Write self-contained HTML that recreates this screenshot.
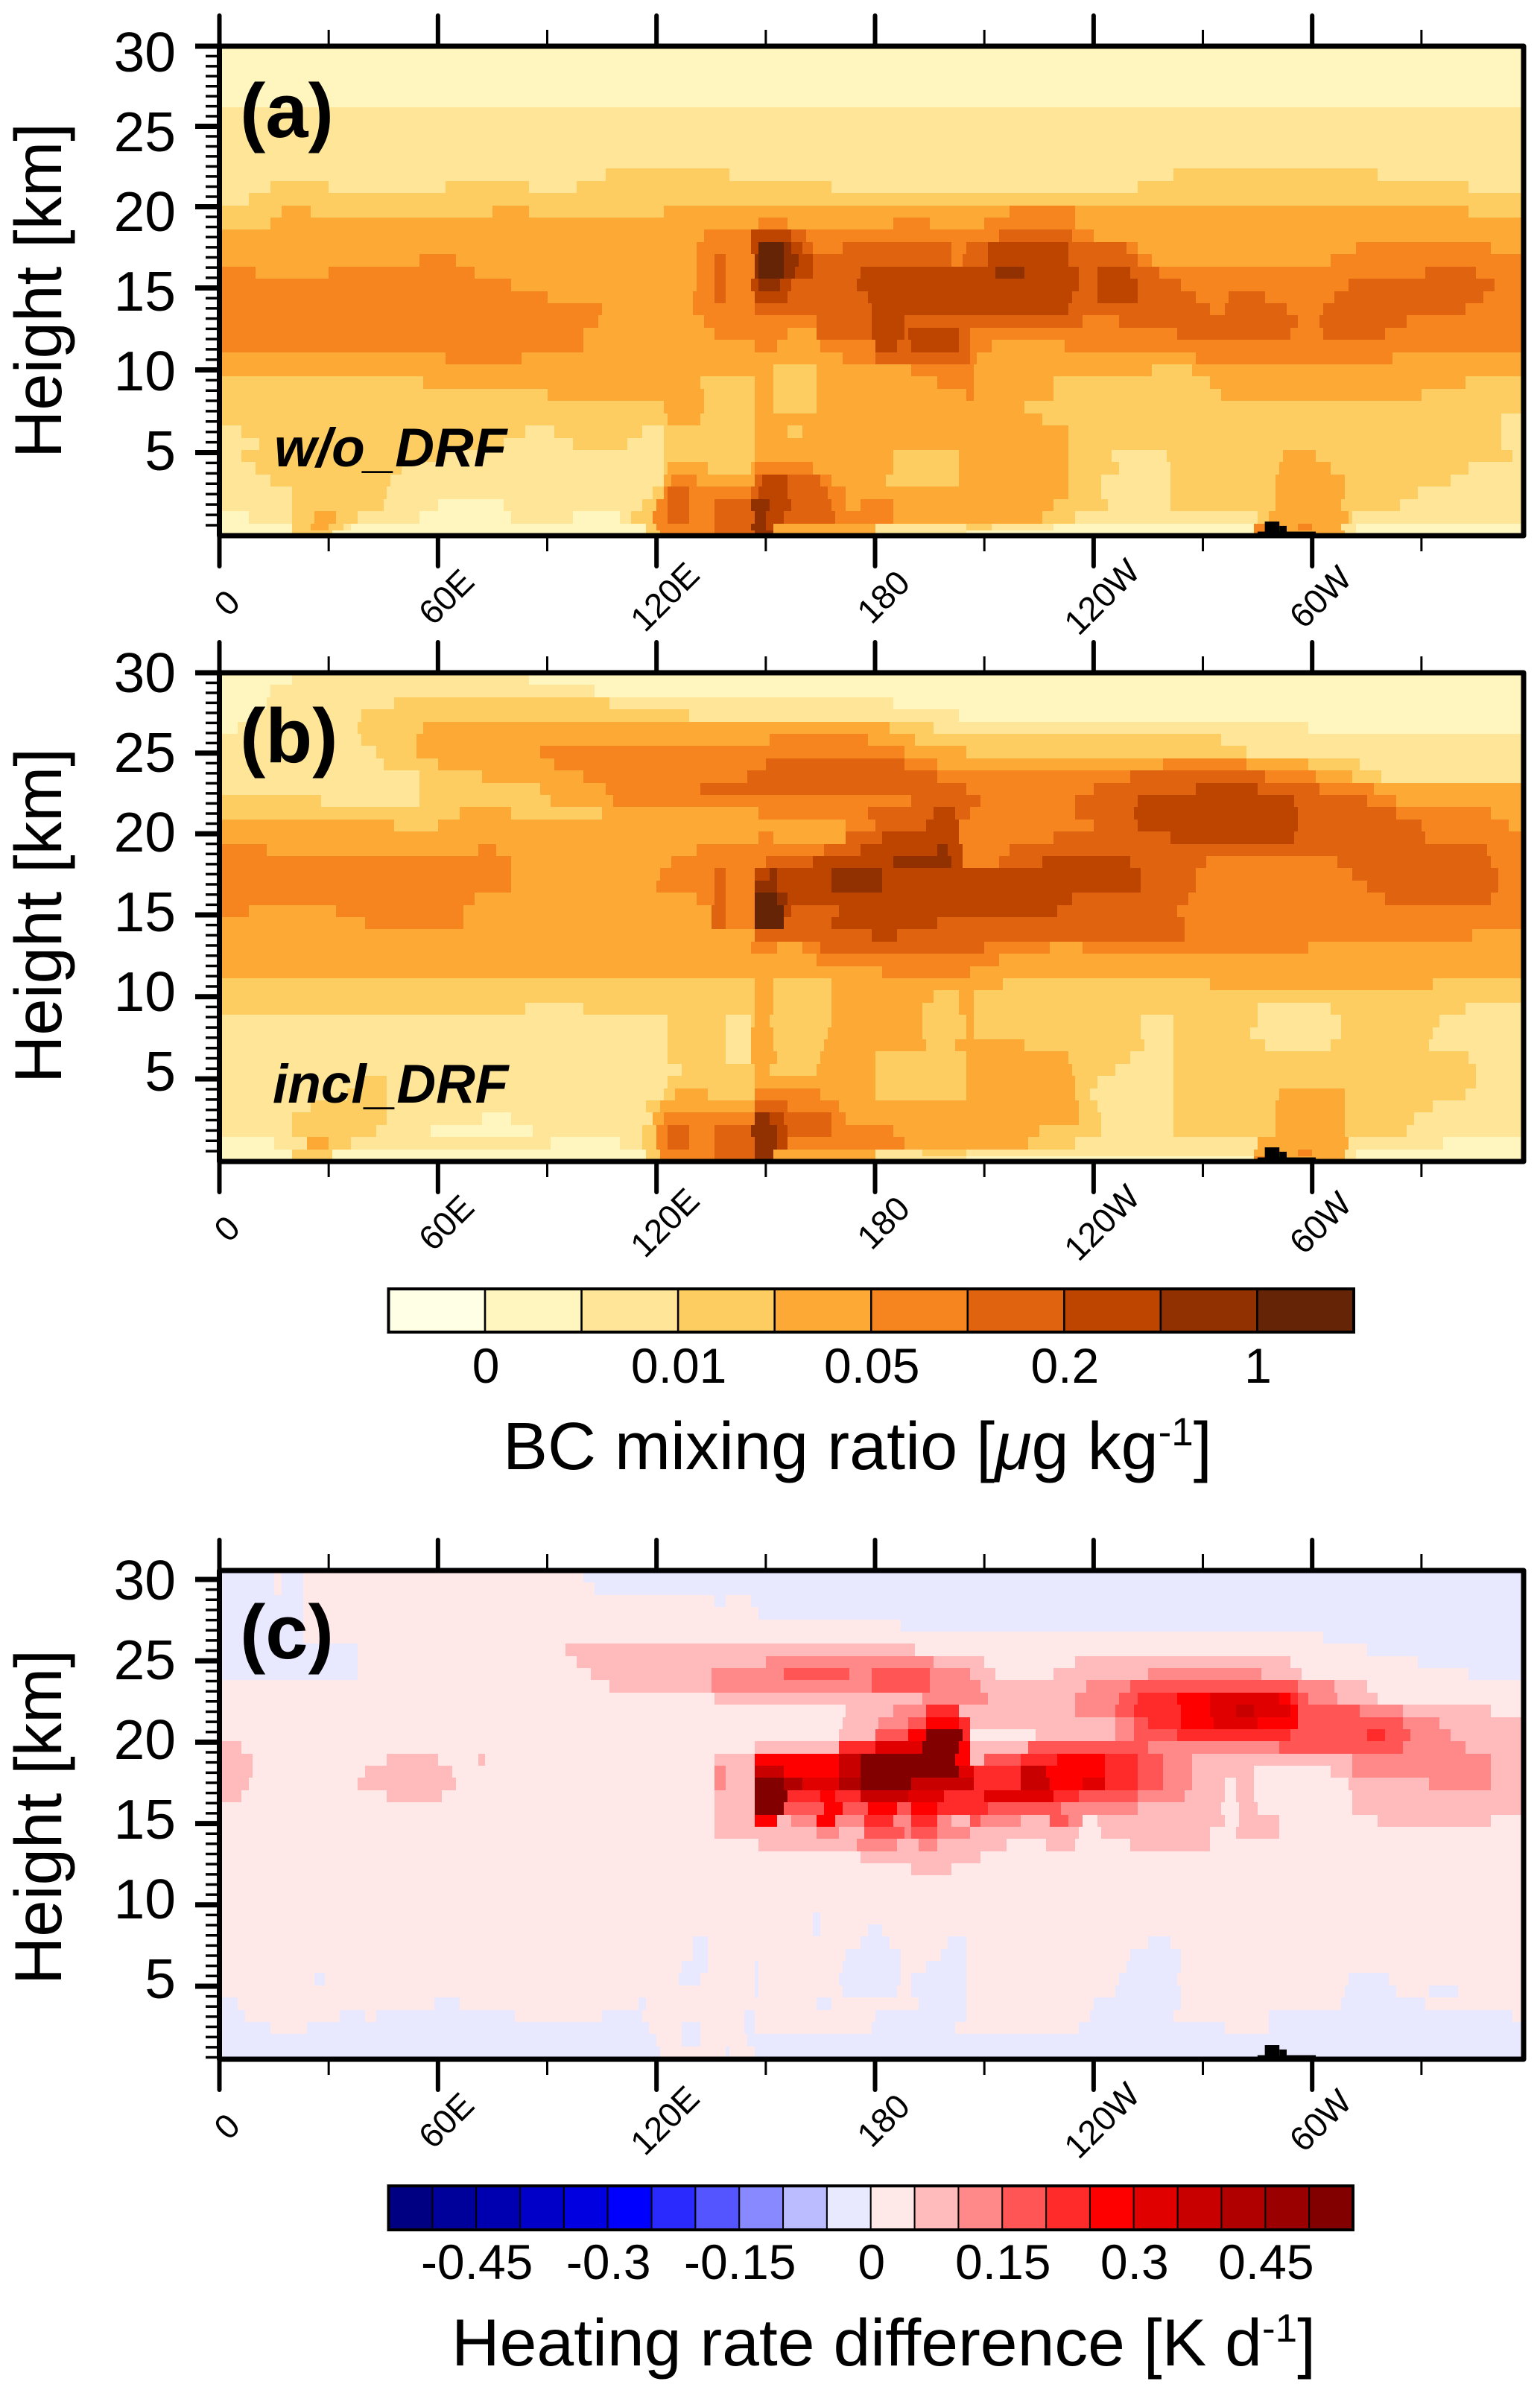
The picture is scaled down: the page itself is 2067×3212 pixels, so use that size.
<!DOCTYPE html>
<html lang="en">
<head>
<meta charset="utf-8">
<title>BC mixing ratio and heating rate difference</title>
<style>
html,body{margin:0;padding:0;background:#fff;}
svg{display:block;font-family:"Liberation Sans",sans-serif;}
</style>
</head>
<body>
<svg id="figure" xmlns="http://www.w3.org/2000/svg" width="2067" height="3212" viewBox="0 0 2067 3212">
<rect x="0" y="0" width="2067" height="3212" fill="#ffffff"/>
<g id="layer"></g>
<text x="322" y="184" font-size="103" font-weight="bold">(a)</text>
<text x="322" y="1023" font-size="103" font-weight="bold">(b)</text>
<text x="322" y="2226" font-size="103" font-weight="bold">(c)</text>
<text x="368" y="626" font-size="73" font-weight="bold" font-style="italic">w/o_DRF</text>
<text x="366" y="1480" font-size="73" font-weight="bold" font-style="italic">incl_DRF</text>
<text x="675" y="1972" font-size="90">BC mixing ratio [<tspan font-style="italic">μ</tspan>g kg<tspan dy="-32" font-size="53">-1</tspan><tspan dy="32">]</tspan></text>
<text x="606" y="3175" font-size="89.5">Heating rate difference [K d<tspan dy="-32" font-size="53">-1</tspan><tspan dy="32">]</tspan></text>
</svg>
<script>
const paletteBC = ["#FFFFE5","#FFF5BE","#FEE598","#FDCD62","#FCA935","#F6851F","#E06410","#BE4500","#913000","#652405"];
const paletteHR = ["#000082","#00009A","#0000B0","#0000C8","#0000E0","#0000FF","#2A2AFF","#5555FF","#8888FF","#BBBBFF","#E8E8FF","#FFE8E8","#FFBBBB","#FF8888","#FF5555","#FF2A2A","#FF0000","#E00000","#C80000","#B00000","#9A0000","#820000"];
const colorbarLabelsBC = ["0","0.01","0.05","0.2","1"];
const colorbarBoundsBC = [1,3,5,7,9];
const colorbarLabelsHR = ["-0.45","-0.3","-0.15","0","0.15","0.3","0.45"];
const colorbarBoundsHR = [2,5,8,11,14,17,20];
const xMajorLon = [0,60,120,180,240,300];
const xMajorLabels = ["0","60E","120E","180","120W","60W"];
const xMinorLon = [30,90,150,210,270,330];
const yMajorKm = [5,10,15,20,25,30];
const yMinorKm = [0.625,1.25,1.875,2.5,3.125,3.75,4.375,5.625,6.25,6.875,7.5,8.125,8.75,9.375,10.625,11.25,11.875,12.5,13.125,13.75,14.375,15.625,16.25,16.875,17.5,18.125,18.75,19.375,20.625,21.25,21.875,22.5,23.125,23.75,24.375,25.625,26.25,26.875,27.5,28.125,28.75,29.375];
const terrainStartLon = [139,285,287,291];
const terrainEndLon = [153,301,291,293];
const terrainRiseKm = [0.15,0.25,0.87,0.6];
const heightEdgesAB = [30,29.25,28.5,27.75,27,26.25,25.5,24.75,24,23.25,22.5,21.75,21,20.25,19.5,18.75,18,17.25,16.5,15.75,15,14.25,13.5,12.75,12,11.25,10.5,9.75,9,8.25,7.5,6.75,6,5.25,4.5,3.75,3,2.25,1.5,0.75,0.3,0];
const heightEdgesC = [30.55,29.8,29.05,28.3,27.55,26.8,26.05,25.3,24.55,23.8,23.05,22.3,21.55,20.8,20.05,19.3,18.55,17.8,17.05,16.3,15.55,14.8,14.05,13.3,12.55,11.8,11.05,10.3,9.55,8.8,8.05,7.3,6.55,5.8,5.05,4.3,3.55,2.8,2.05,1.3,0.51];
/* each row: "level:endLongitude" spans, from top of the plot to the bottom */
const rowsA = [
"1:360","1:360","1:360","1:360","1:360",
"2:360","2:360","2:360","2:360","2:360",
"2:106 3:140 2:262 3:318 2:360",
"2:14 3:30 2:62 3:85 2:98 3:168 2:252 3:343 2:360",
"2:8 3:360",
"3:17 4:25 3:75 4:85 3:122 4:217 5:235 4:343 3:360",
"3:14 4:148 5:156 4:185 5:195 4:210 5:235 4:360",
"4:133 5:146 7:157 6:161 5:214 6:234 5:240 4:360",
"4:131 5:146 7:148 9:155 8:157 7:160 6:163 5:171 6:201 5:205 6:211 7:233 6:249 5:252 4:312 5:349 4:360",
"4:55 5:65 4:131 5:136 6:139 5:147 8:148 9:155 8:159 7:163 6:201 5:204 6:211 7:233 6:252 5:256 4:305 5:360",
"5:10 4:30 5:70 4:131 5:136 6:139 5:147 8:148 9:155 8:158 7:163 6:176 7:213 8:221 7:236 6:241 7:250 6:258 5:331 6:345 5:360",
"5:80 4:131 5:136 6:139 5:146 7:148 8:154 7:157 6:175 7:236 6:241 7:252 6:264 5:310 6:350 5:360",
"5:90 4:130 5:136 6:139 5:147 7:156 6:178 7:234 6:241 7:252 6:268 5:277 6:287 5:306 6:347 5:360",
"5:105 4:130 5:147 6:179 7:233 6:272 5:276 6:293 5:303 6:342 5:360",
"5:104 4:133 5:164 6:179 7:188 6:237 5:247 6:296 5:302 6:326 5:360",
"5:100 4:136 5:156 4:164 6:179 7:188 6:189 7:203 6:206 5:263 6:294 5:303 6:320 5:360",
"5:100 4:147 5:153 4:165 5:180 7:186 6:190 7:203 6:206 5:212 4:232 5:360",
"4:62 5:83 4:171 5:180 6:206 5:208 4:268 5:322 4:360",
"4:152 3:164 4:190 5:207 4:256 3:267 4:360",
"3:56 4:132 3:147 4:152 3:164 4:197 5:207 4:229 3:272 4:342 3:360",
"3:90 4:133 3:147 4:152 3:164 4:205 5:207 4:229 3:275 4:330 3:360",
"3:122 4:133 3:147 4:152 3:164 4:221 3:360",
"3:123 4:132 3:147 4:226 3:352 2:360",
"2:6 3:84 2:92 3:116 2:122 3:147 4:156 3:160 4:233 3:352 2:360",
"2:11 3:78 2:97 3:112 2:122 3:147 4:233 3:352 2:360",
"2:6 3:62 2:122 3:147 4:185 3:203 4:233 3:245 2:260 3:292 4:301 3:355 2:360",
"2:10 3:50 2:122 3:123 4:134 3:146 4:147 5:163 4:185 3:203 4:233 3:247 2:261 3:291 4:305 3:343 2:360",
"2:14 3:47 2:122 4:124 5:131 4:147 6:149 7:156 6:165 5:168 4:183 3:203 4:233 3:242 2:261 3:290 4:309 3:338 2:360",
"2:20 3:46 2:119 3:122 5:123 6:129 5:146 6:148 7:156 6:167 5:172 4:233 3:242 2:261 3:290 4:309 3:329 2:360",
"2:20 3:45 2:60 1:78 2:116 3:120 5:123 6:129 5:136 6:146 8:151 7:157 6:168 5:172 4:176 5:185 4:229 3:244 2:261 3:290 4:308 3:324 2:360",
"1:8 2:20 3:26 4:32 3:38 2:55 1:80 2:97 1:110 2:113 3:119 5:123 6:129 5:136 6:147 8:150 7:155 6:169 5:185 4:226 3:235 2:285 3:288 4:310 3:311 2:360",
"1:20 3:25 4:30 3:34 2:36 1:117 3:120 5:136 6:146 8:150 7:152 4:180 2:205 3:212 2:229 1:284 5:288 4:296 5:300 4:308 2:312 1:360",
"1:20 3:31 1:117 3:121 5:136 6:147 8:152 4:180 2:205 1:284 5:290 4:309 2:312 1:360"
];
const rowsB = [
"1:20 2:85 1:360",
"1:14 2:103 1:360",
"1:13 2:48 3:107 2:185 1:360",
"1:9 2:39 3:129 2:203 1:360",
"1:5 2:38 3:56 4:184 3:196 2:299 1:360",
"2:39 3:54 4:151 5:178 4:191 3:275 2:360",
"2:43 3:54 4:88 5:188 4:205 3:282 2:360",
"2:45 3:60 4:92 5:150 6:188 5:197 4:259 5:282 4:299 3:313 2:360",
"2:55 3:72 4:100 5:145 6:197 5:250 6:287 5:301 4:311 3:319 2:360",
"2:55 3:88 4:106 5:132 6:205 5:240 6:268 7:285 6:302 5:317 4:360",
"3:28 2:55 3:91 4:108 5:190 6:209 5:235 6:252 7:295 6:315 5:323 4:360",
"3:66 4:80 3:105 4:148 5:178 6:196 7:202 6:206 5:235 6:251 7:296 6:323 5:349 4:360",
"4:48 3:60 4:172 5:180 6:194 7:203 5:240 6:252 7:296 6:330 5:354 4:360",
"4:148 5:152 4:172 6:182 7:203 5:229 6:261 7:295 6:331 5:359 4:360",
"5:13 4:71 5:76 4:131 5:166 6:176 7:197 8:200 7:204 5:217 6:348 5:360",
"5:80 4:124 5:150 6:163 7:185 8:201 7:204 5:214 6:226 7:250 6:271 5:307 6:349 5:360",
"5:80 4:121 5:136 6:139 5:147 7:151 8:153 7:168 8:182 7:253 6:268 5:311 6:351 5:360",
"5:80 4:120 5:136 6:139 5:147 8:153 7:168 8:182 7:253 6:268 5:315 6:351 5:360",
"5:70 4:131 5:136 6:139 5:147 9:153 8:156 7:234 6:266 5:320 6:349 5:360",
"5:8 4:32 5:67 4:135 6:139 5:147 9:155 7:157 6:170 7:230 6:263 5:360",
"4:40 5:67 4:135 6:139 5:147 9:155 6:168 7:197 6:265 5:360",
"4:147 6:179 7:186 6:265 5:344 4:360",
"4:146 5:153 4:160 5:165 6:210 5:228 4:237 5:299 4:360",
"4:164 5:214 4:360",
"4:182 5:206 4:360",
"3:147 4:152 3:168 4:215 3:272 4:333 3:360",
"3:147 4:152 3:168 4:196 3:203 4:207 3:360",
"3:84 2:100 3:147 4:152 3:168 4:193 3:203 4:207 3:285 2:305 3:342 2:360",
"2:123 3:139 2:146 3:147 4:151 3:168 4:193 3:205 4:207 3:253 2:262 3:285 2:308 3:335 2:360",
"2:123 3:139 2:146 4:152 3:167 4:193 3:205 4:207 3:253 2:262 3:283 2:308 3:333 2:360",
"2:123 3:139 2:146 4:152 3:166 4:194 3:202 4:221 3:254 2:262 3:287 2:305 3:332 2:360",
"2:123 3:139 2:146 4:153 3:165 4:180 3:205 4:233 3:250 2:262 3:343 2:360",
"2:127 3:147 4:151 3:164 4:180 3:205 4:234 3:246 2:262 3:345 2:360",
"2:39 3:46 2:123 3:147 4:180 3:205 4:235 3:241 2:262 3:345 2:360",
"2:35 3:46 2:122 3:125 4:134 3:147 5:165 4:180 3:205 4:235 3:239 2:262 3:291 4:309 3:342 2:360",
"2:25 3:46 2:117 3:121 4:147 6:156 5:170 4:236 3:241 2:262 3:290 4:309 3:333 2:360",
"2:20 3:46 2:72 1:80 2:119 4:122 5:147 8:151 7:155 6:168 5:172 4:236 3:242 2:262 3:290 4:309 3:328 2:360",
"2:20 3:43 2:58 1:86 2:116 3:120 5:123 6:129 5:136 6:146 8:153 7:156 6:168 5:185 4:225 3:242 2:262 3:290 4:309 3:326 2:360",
"1:15 2:24 4:30 3:36 2:91 1:110 2:116 3:120 5:123 6:129 5:136 6:147 8:153 7:156 5:188 4:222 3:235 2:285 4:310 2:336 1:360",
"1:20 3:31 1:117 3:121 5:136 6:147 8:152 4:180 2:193 3:205 2:284 4:296 5:300 4:309 2:312 1:360",
"1:20 3:31 1:117 3:121 5:136 6:147 8:152 4:180 2:205 1:284 5:290 4:309 2:312 1:360"
];
const rowsC = [
"10:15 11:17 10:23 11:100 10:360",
"10:15 11:17 10:23 11:103 10:360",
"10:23 11:136 10:139 11:146 10:360",
"10:23 11:148 10:360",
"10:23 11:187 10:360",
"10:23 11:303 10:360",
"10:38 11:95 12:191 11:315 10:360",
"10:38 11:98 12:150 13:196 12:210 11:235 12:294 11:329 10:360",
"10:38 11:102 12:135 13:155 14:173 13:179 14:195 13:206 12:213 11:229 12:255 13:286 12:297 11:343 10:360",
"11:107 12:135 13:179 14:195 13:209 12:238 13:250 14:296 13:306 12:315 11:360",
"11:136 12:193 13:211 12:235 13:247 14:252 15:263 16:272 17:291 16:294 15:296 14:299 13:307 12:318 11:360",
"11:172 12:185 13:194 15:203 12:235 13:246 14:251 15:264 16:272 17:279 18:284 17:294 16:296 14:313 13:325 12:349 11:360",
"11:171 12:181 13:189 14:194 16:203 15:206 12:246 13:251 14:255 15:264 16:273 17:285 16:296 14:325 13:335 12:358 11:360",
"11:170 12:180 14:189 16:194 21:204 15:206 11:224 12:246 13:251 14:263 15:294 14:315 15:320 14:327 13:338 12:360",
"12:6 11:147 12:170 15:180 17:193 21:203 16:206 12:222 14:255 13:291 14:325 13:342 12:360",
"12:9 11:46 12:60 11:71 12:73 11:136 12:147 16:170 18:176 21:202 16:206 12:210 14:220 15:230 16:243 15:252 14:259 13:267 12:311 13:349 12:360",
"12:9 11:40 12:64 11:136 13:139 12:147 18:155 16:170 18:176 21:203 17:207 15:220 18:227 16:243 15:252 14:259 13:267 12:284 11:305 12:311 13:349 12:360",
"12:8 11:38 12:65 11:136 13:139 12:147 21:155 19:160 17:170 19:176 21:190 18:207 15:220 18:228 16:237 17:243 15:252 14:259 13:267 12:276 11:279 12:284 11:310 12:332 13:349 12:360",
"12:6 11:46 12:61 11:136 12:147 21:156 15:165 16:169 15:176 18:189 17:199 15:210 17:229 15:236 14:252 13:265 12:276 11:279 12:284 11:311 12:360",
"11:136 12:147 21:155 14:166 16:171 14:178 16:186 14:190 16:197 15:211 14:231 13:252 12:275 11:280 12:285 11:311 12:360",
"11:136 12:147 16:153 12:157 13:164 16:169 13:177 15:185 13:190 15:197 13:201 12:206 14:209 13:220 12:228 14:233 13:237 11:241 12:276 11:280 12:291 11:318 12:349 11:360",
"11:136 12:164 13:170 12:177 14:188 13:190 14:197 13:206 12:236 11:242 12:272 11:279 12:291 11:360",
"11:148 12:175 13:186 12:192 13:197 12:216 11:227 12:235 11:250 12:272 11:360",
"11:176 12:209 11:360",
"11:190 12:201 11:360",
"11:360",
"11:360",
"11:360",
"11:163 10:165 11:360",
"11:163 10:165 11:178 10:182 11:360",
"11:130 10:134 11:176 10:184 11:200 10:205 11:255 10:261 11:360",
"11:130 10:134 11:172 10:187 11:198 10:205 11:250 10:264 11:360",
"11:127 10:134 11:147 10:148 11:171 10:187 11:194 10:205 11:249 10:264 11:360",
"11:26 10:29 11:126 10:132 11:147 10:148 11:170 10:187 11:190 10:205 11:247 10:263 11:310 10:321 11:360",
"11:147 10:148 11:171 10:186 11:190 10:205 11:246 10:264 11:309 10:323 11:332 10:340 11:360",
"10:5 11:59 10:66 11:115 10:117 11:164 10:168 11:192 10:205 11:240 10:264 11:308 10:331 11:360",
"10:7 11:33 10:40 11:43 10:81 11:105 10:116 11:144 10:147 11:180 10:205 11:239 10:262 11:288 10:355 11:360",
"10:14 11:24 10:118 11:127 10:132 11:144 10:147 11:179 10:202 11:236 10:276 11:288 10:360",
"10:120 11:127 10:132 11:145 10:360",
"10:121 11:139 10:140 11:147 10:360"
];

const SVGNS = "http://www.w3.org/2000/svg";
const layer = document.getElementById("layer");
function make(tag, parent, attrs) {
  const el = document.createElementNS(SVGNS, tag);
  for (const key in attrs) el.setAttribute(key, attrs[key]);
  parent.appendChild(el);
  return el;
}
const plotLeft = 294.5, plotRight = 2045, degToPx = 4.889;
function xOfLon(lon) { return Math.min(plotLeft + lon * degToPx, plotRight); }

function drawPanel(id, rows, edges, palette, top, bottom, kmTop, kmBot, warp, labelBase, heightCenter) {
  const group = make("g", layer, {});
  
  
  function yOfKm(km) { return top + (kmTop - km) / (kmTop - kmBot) * (bottom - top); }
  function tickY(km) { return yOfKm(km) - warp * Math.sin(Math.PI * km / 30); }

  rows.forEach(function (row, r) {
    const y0 = Math.round(yOfKm(edges[r]));
    const y1 = Math.round(yOfKm(edges[r + 1]));
    let start = 0;
    row.split(" ").forEach(function (token) {
      const parts = token.split(":");
      const level = Number(parts[0]);
      const end = Number(parts[1]);
      const x0 = Math.round(xOfLon(start));
      const x1 = Math.round(xOfLon(end));
      const cell = make("rect", group, {x: x0, y: y0, width: Math.max(x1 - x0, 0), height: y1 - y0, fill: palette[level], "shape-rendering": "crispEdges"});
      
      
      start = end;
    });
  });

  terrainStartLon.forEach(function (lon, i) {
    const x0 = xOfLon(lon);
    const x1 = xOfLon(terrainEndLon[i]);
    const h = terrainRiseKm[i] * 21.8;
    const land = make("rect", group, {x: x0, y: bottom - h, width: x1 - x0, height: h, fill: "#000000"});
    
    
  });

  const frame = make("rect", group, {x: plotLeft, y: top, width: plotRight - plotLeft, height: bottom - top, fill: "none", stroke: "#000000", "stroke-width": 7, "stroke-linejoin": "round"});
  
  

  xMajorLon.forEach(function (lon, i) {
    const x = xOfLon(lon);
    const tickTop = make("line", group, {x1: x, x2: x, y1: top - 41, y2: top, stroke: "#000000", "stroke-width": 6, "stroke-linecap": "round"});
    
    
    const tickBottom = make("line", group, {x1: x, x2: x, y1: bottom, y2: bottom + 41, stroke: "#000000", "stroke-width": 6, "stroke-linecap": "round"});
    
    
    const text = xMajorLabels[i];
    const cx = x + (text.length === 1 ? 10 : 11);
    const cy = bottom + (text.length === 1 ? 90 : 82);
    const label = make("text", group, {x: cx, y: cy + 16, "font-size": 46, "text-anchor": "middle", transform: "rotate(-45 " + cx + " " + cy + ")"});
    
    
    label.textContent = text;
  });
  xMinorLon.forEach(function (lon) {
    const x = xOfLon(lon);
    const tickTop = make("line", group, {x1: x, x2: x, y1: top - 22, y2: top, stroke: "#000000", "stroke-width": 3});
    
    
    const tickBottom = make("line", group, {x1: x, x2: x, y1: bottom, y2: bottom + 21, stroke: "#000000", "stroke-width": 3});
    
    
  });
  yMajorKm.forEach(function (km) {
    const y = tickY(km);
    const tick = make("line", group, {x1: 262, x2: plotLeft, y1: y, y2: y, stroke: "#000000", "stroke-width": 7});
    
    
    const label = make("text", group, {x: 236, y: labelBase + (30 - km) * 21.4, "font-size": 75, "text-anchor": "end"});
    
    
    label.textContent = String(km);
  });
  yMinorKm.forEach(function (km) {
    if (km < kmBot + 0.1) return;
    const y = tickY(km);
    const tick = make("line", group, {x1: 276, x2: plotLeft, y1: y, y2: y, stroke: "#000000", "stroke-width": 3.5});
    
    
  });
  const title = make("text", group, {x: 82, y: heightCenter, "font-size": 89, "text-anchor": "middle", transform: "rotate(-90 82 " + heightCenter + ")"});
  
  
  title.textContent = "Height [km]";
}

function drawColorbar(id, palette, labels, bounds, left, right, top, bottom, labelBase, innerWidth) {
  const group = make("g", layer, {});
  
  
  const step = (right - left) / palette.length;
  palette.forEach(function (color, i) {
    const box = make("rect", group, {x: left + i * step, y: top, width: step, height: bottom - top, fill: color, stroke: "#000000", "stroke-width": innerWidth});
    
    
  });
  const outline = make("rect", group, {x: left, y: top, width: right - left, height: bottom - top, fill: "none", stroke: "#000000", "stroke-width": 4});
  
  
  labels.forEach(function (text, i) {
    const label = make("text", group, {x: left + bounds[i] * step + 1, y: labelBase, "font-size": 66, "text-anchor": "middle"});
    
    
    label.textContent = text;
  });
}

drawPanel("a", rowsA, heightEdgesAB, paletteBC, 62, 719, 30, 0, 4, 96, 390);
drawPanel("b", rowsB, heightEdgesAB, paletteBC, 903, 1559, 30, 0, 3, 929, 1229);
drawPanel("c", rowsC, heightEdgesC, paletteHR, 2108, 2764, 30.55, 0.51, 0, 2147, 2439);
drawColorbar("bc", paletteBC, colorbarLabelsBC, colorbarBoundsBC, 521.5, 1817, 1730, 1788, 1856, 2.5);
drawColorbar("heating", paletteHR, colorbarLabelsHR, colorbarBoundsHR, 521.5, 1816, 2934, 2993, 3059, 2);

/* labels drawn last stay above the panels */
const svg = document.getElementById("figure");
Array.from(svg.querySelectorAll(":scope > text")).forEach(function (t) { svg.appendChild(t); });
</script>
</body>
</html>
